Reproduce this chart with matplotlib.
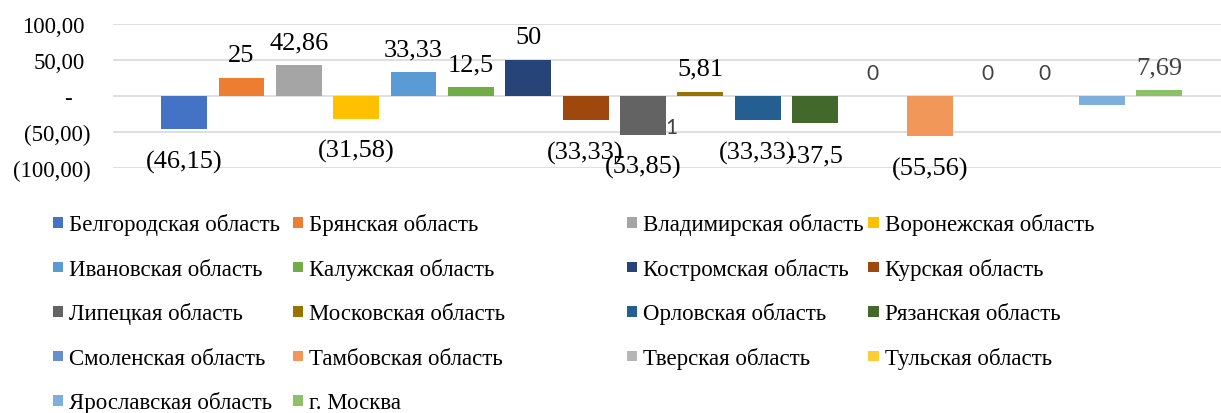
import matplotlib

matplotlib.use("Agg")
import matplotlib.pyplot as plt
import matplotlib.transforms as mtransforms
from matplotlib.patches import Rectangle

plt.rcParams["font.family"] = ["Liberation Serif", "DejaVu Serif"]

# Regions (one series per region, Excel-style single category)
REGIONS = [
    "Белгородская область", "Брянская область", "Владимирская область", "Воронежская область",
    "Ивановская область", "Калужская область", "Костромская область", "Курская область",
    "Липецкая область", "Московская область", "Орловская область", "Рязанская область",
    "Смоленская область", "Тамбовская область", "Тверская область", "Тульская область",
    "Ярославская область", "г. Москва",
]
VALUES = [-46.15, 25, 42.86, -31.58, 33.33, 12.5, 50, -33.33,
          -53.85, 5.81, -33.33, -37.5, 0, -55.56, 0, 0, -12.5, 7.69]
# data labels as printed on the chart ("" = label hidden)
LABELS = ["(46,15)", "25", "42,86", "(31,58)", "33,33", "12,5", "50", "(33,33)",
          "(53,85)", "5,81", "(33,33)", "-37,5", "0", "(55,56)", "0", "0", "", "7,69"]
YTICKS = [100, 50, 0, -50, -100]
YTICK_LABELS = ["100,00", "50,00", "-", "(50,00)", "(100,00)"]

COLORS = ["#4472C4", "#ED7D31", "#A5A5A5", "#FFC000", "#5B9BD5", "#70AD47",
          "#264478", "#9E480E", "#636363", "#997300", "#255E91", "#43682B",
          "#698ED0", "#F1975A", "#B7B7B7", "#FFCD33", "#7CAFDD", "#8CC168"]
GRID = "#D9D9D9"
GRAY_TEXT = "#404040"

W, H, DPI = 1221, 414, 100
fig = plt.figure(figsize=(W / DPI, H / DPI), dpi=DPI)
ax = fig.add_axes([113 / W, 1 - 169 / H, (W - 113) / W, 144 / H])

xs = list(range(len(VALUES)))
bars = ax.bar(xs, VALUES, width=0.8, color=COLORS, zorder=2)

for x, v, lab in zip(xs, VALUES, LABELS):
    if not lab:
        continue
    if lab == "0":
        kw = dict(fontsize=15, color=GRAY_TEXT, family=["Lato", "DejaVu Sans"])
    elif lab == "7,69":
        kw = dict(fontsize=19, color=GRAY_TEXT)
    else:
        kw = dict(fontsize=19, color="black")
    dy = 23 if v >= 0 else -32
    ax.annotate(lab, (x, v), xytext=(0, dy), textcoords="offset pixels",
                ha="center", va="center", zorder=3, **kw)

# stray partly hidden label next to the Липецкая bar
ax.text(8.5, -43, "1", ha="center", va="center", fontsize=15,
        color=GRAY_TEXT, family=["Lato", "DejaVu Sans"], zorder=3)

ax.set_xlim(-1.24, 18.08)
ax.set_ylim(-100, 100)
ax.set_yticks(YTICKS)
ax.set_yticklabels(YTICK_LABELS, fontsize=16.5)
ax.tick_params(axis="y", length=0, pad=16)
ax.set_xticks([])
ax.grid(axis="y", color=GRID, linewidth=1.2, zorder=0)
ax.set_axisbelow(True)
for s in ax.spines.values():
    s.set_visible(False)

# accounting-style alignment: positives and "-" sit left of the ")" column
shifts = {"100,00": 6, "50,00": 6, "-": 19}
for lbl, txt in zip(ax.get_yticklabels(), YTICK_LABELS):
    if txt in shifts:
        off = mtransforms.ScaledTranslation(-shifts[txt] / DPI, 0, fig.dpi_scale_trans)
        lbl.set_transform(lbl.get_transform() + off)

# legend, 4 columns laid out as in the original
col_x = [52.7, 292.7, 626.7, 868.3]
row_y0, row_step, sq = 223.5, 44.5, 10.5
for i, (name, c) in enumerate(zip(REGIONS, COLORS)):
    r, k = divmod(i, 4)
    cx, cy = col_x[k], row_y0 + r * row_step
    fig.patches.append(Rectangle((cx / W, 1 - (cy + sq / 2) / H), sq / W, sq / H,
                                 transform=fig.transFigure, facecolor=c, edgecolor="none"))
    fig.text((cx + sq + 6) / W, 1 - (cy + 8) / H, name, fontsize=16.5,
             ha="left", va="baseline", color="black")

fig.savefig("out.png", dpi=DPI)
